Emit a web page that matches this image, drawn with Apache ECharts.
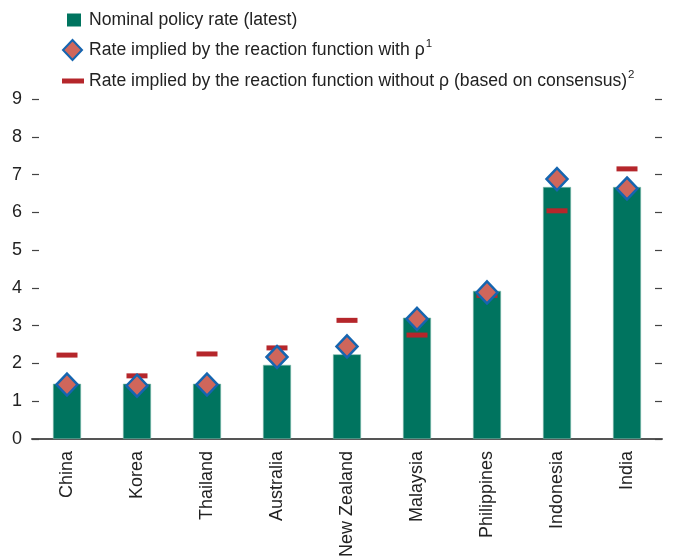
<!DOCTYPE html>
<html><head><meta charset="utf-8">
<script src="https://cdn.jsdelivr.net/npm/echarts@6/dist/echarts.min.js"></script>
<style>html,body{margin:0;padding:0;background:#fff}#c{width:673px;height:560px}</style>
</head><body><div id="c"></div>
<script>
const categories = ['China','Korea','Thailand','Australia','New Zealand','Malaysia','Philippines','Indonesia','India'];
const policyRate = [1.46, 1.46, 1.46, 1.96, 2.24, 3.21, 3.92, 6.67, 6.67];
const withRho = [1.44, 1.41, 1.44, 2.17, 2.45, 3.18, 3.88, 6.88, 6.63];
const withoutRho = [2.22, 1.67, 2.25, 2.41, 3.14, 2.75, 3.80, 6.04, 7.15];
const yTicks = [0,1,2,3,4,5,6,7,8,9];

const FONT = '"Liberation Sans Narrow", "Liberation Sans", Arial, sans-serif';
const FS = 17.6;
const chart = echarts.init(document.getElementById('c'));
const names = ['Nominal policy rate (latest)', 'Rate implied by the reaction function with ρ', 'Rate implied by the reaction function without ρ (based on consensus)'];
chart.setOption({
  animation: false,
  grid: {left: 32, right: 11, top: 99, bottom: 119},
  legend: {
    orient: 'vertical', left: 54, top: 5, itemGap: 8, itemWidth: 24, itemHeight: 20,
    data: [
      {name: names[0], icon: 'path://M0,0L0,0M7,3.5H21V16.5H7Z M24,20L24,20', itemStyle: {borderWidth: 0}},
      {name: names[1], icon: 'path://M0,0L0,0M12.5,0L22,10L12.5,20L3,10Z M24,20L24,20'},
      {name: names[2], icon: 'path://M0,0L0,0M2,7.5H24V12.5H2Z M24,20L24,20'}
    ],
    formatter: function(n){
      if (n === names[1]) return '{t|' + n + '}{s|1}';
      if (n === names[2]) return '{t|' + n + '}{s|2}';
      return '{t|' + n + '}';
    },
    textStyle: {
      fontFamily: FONT, fontSize: FS, color: '#222',
      rich: {
        t: {fontFamily: FONT, fontSize: FS, color: '#222'},
        s: {fontFamily: FONT, fontSize: 11.5, color: '#222', verticalAlign: 'top', padding: [0,0,12,1]}
      }
    }
  },
  xAxis: {
    type: 'category', data: categories,
    axisLine: {lineStyle: {color: '#555', width: 2}},
    axisTick: {inside: true, length: 8, lineStyle: {color: '#555', width: 1.5}},
    axisLabel: {rotate: 90, fontFamily: FONT, fontSize: 18, color: '#222', margin: 12}
  },
  yAxis: [{
    type: 'value', min: 0, max: 9, interval: 1,
    axisLine: {show: false},
    axisTick: {show: true, inside: true, length: 7, lineStyle: {color: '#444', width: 1.2}},
    axisLabel: {fontFamily: FONT, fontSize: 18, color: '#222', margin: 10,
      formatter: v => String(yTicks[v] ?? v)},
    splitLine: {show: false}
  }, {
    type: 'value', min: 0, max: 9, interval: 1, position: 'right',
    axisLine: {show: false},
    axisTick: {show: true, inside: true, length: 7, lineStyle: {color: '#444', width: 1.2}},
    axisLabel: {show: false}, splitLine: {show: false}
  }],
  series: [
    {name: names[0], type: 'bar', data: policyRate, barWidth: 28,
      itemStyle: {color: '#00745f', borderColor: '#7fb9ab', borderWidth: 0.6}},
    {name: names[2], type: 'scatter', data: withoutRho, symbol: 'rect', symbolSize: [21, 5],
      itemStyle: {color: '#b5262b', opacity: 1}, z: 3},
    {name: names[1], type: 'scatter', data: withRho, symbol: 'diamond', symbolSize: [21, 22],
      itemStyle: {color: '#cf665b', borderColor: '#1565b0', borderWidth: 2.5, opacity: 1}, z: 4}
  ]
});
</script></body></html>
